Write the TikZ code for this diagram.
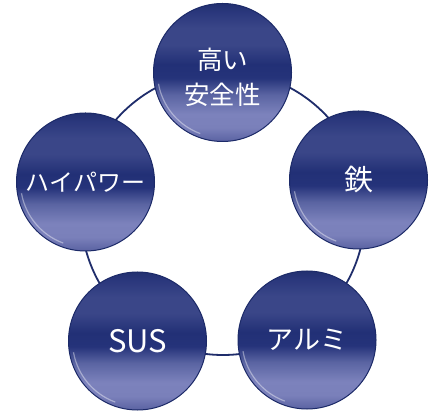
\documentclass[tikz,border=0pt]{standalone}
\usepackage{fontspec}
\usetikzlibrary{calc}
\newfontfamily\jp{Noto Sans CJK JP}
\definecolor{ringc}{HTML}{1F2D6B}
\definecolor{rimc}{HTML}{1C2A68}
\definecolor{sA}{HTML}{5A62A2}
\definecolor{sB}{HTML}{7A80BA}
\definecolor{sC}{HTML}{7C82BC}
\definecolor{sD}{HTML}{5A64A2}
\definecolor{sE}{HTML}{25337A}
\definecolor{sF}{HTML}{223076}
\definecolor{sG}{HTML}{3A4688}
\definecolor{sH}{HTML}{2A377C}
\definecolor{sI}{HTML}{223070}
\pgfdeclareverticalshading{sphereshade}{100bp}{%
  color(0bp)=(sA);
  color(25bp)=(sA);
  color(30bp)=(sB);
  color(35bp)=(sC);
  color(42bp)=(sD);
  color(48bp)=(sE);
  color(53bp)=(sF);
  color(60bp)=(sG);
  color(66bp)=(sG);
  color(72bp)=(sH);
  color(75bp)=(sI);
  color(100bp)=(sI)}
\tikzset{
  ball/.style={circle, minimum size=138pt, inner sep=0pt, shading=sphereshade,
    draw=rimc, line width=1pt, text=white, align=center},
  ring/.style={draw=ringc, line width=1.8pt},
  glint/.style={draw=white, opacity=0.4, line width=1.2pt}
}
\begin{document}
\begin{tikzpicture}[x=1pt,y=1pt]
\useasboundingbox (0,0) rectangle (446,414);
\fill[white] (0,0) rectangle (446,414);
\coordinate (c) at (223,201);
\draw[ring] (c) circle[radius=142];
\node[ball, font={\jp\fontsize{25.5}{35}\selectfont}] (anzen) at (222.5,341.5) {\rule{0pt}{31pt}高い\\安全性};
\node[ball, font={\jp\fontsize{29}{35}\selectfont}] (tetsu) at (358.5,234) {鉄};
\node[ball, font={\jp\fontsize{24}{30}\selectfont}] (power) at (85.5,232) {ハイパワー};
\node[ball, font={\jp\fontsize{31}{36}\selectfont}] (sus) at (137.5,73) {SUS};
\node[ball, font={\jp\fontsize{27}{32}\selectfont}] (alumi) at (307,74) {アルミ};
\foreach \n in {anzen,tetsu,power,sus,alumi}{
  \draw[glint] ($(\n.center)+(190:65)$) arc[start angle=190, end angle=250, radius=65];
}
\end{tikzpicture}
\end{document}
